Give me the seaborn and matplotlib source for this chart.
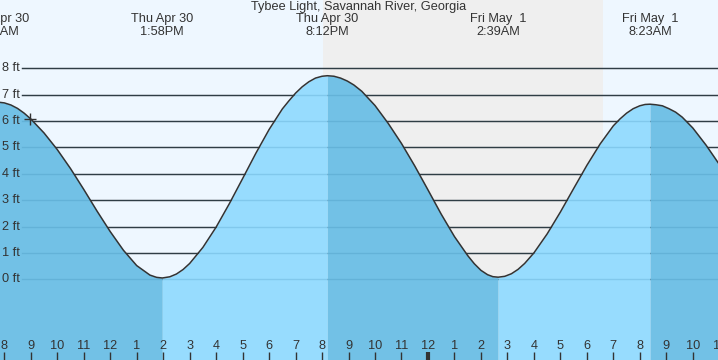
import numpy as np
import pandas as pd
import matplotlib
matplotlib.use("Agg")
import matplotlib.pyplot as plt
import matplotlib.transforms as mtrans
import seaborn as sns

# ---------------- data (hours since Thu Apr 30 00:00, feet) ----------------
title = "Tybee Light, Savannah River, Georgia"
curve_hours = [7.75, 8.0, 8.25, 8.5, 8.75, 9.0, 9.5, 10.0, 10.5, 11.0, 11.5, 12.0, 12.5,
               13.0, 13.5, 13.75, 13.967,
               14.25, 14.5, 14.75, 15.0, 15.5, 16.0, 16.5, 17.0, 17.5, 18.0, 18.5, 18.75,
               19.0, 19.25, 19.5, 19.75, 20.0, 20.2,
               20.45, 20.7, 20.95, 21.2, 21.5, 22.0, 22.5, 23.0, 23.5, 24.0, 24.5, 25.0,
               25.5, 25.75, 26.0, 26.25, 26.45, 26.65,
               26.9, 27.15, 27.4, 27.65, 28.0, 28.5, 29.0, 29.5, 30.0, 30.5, 31.0, 31.25,
               31.5, 31.75, 32.0, 32.2, 32.383,
               32.6, 32.85, 33.1, 33.35, 33.6, 34.0, 34.5, 35.0]
curve_feet = [6.72, 6.69, 6.61, 6.48, 6.30, 6.08, 5.55, 4.92, 4.20, 3.41, 2.59, 1.81, 1.10,
              0.52, 0.16, 0.074, 0.05,
              0.095, 0.20, 0.37, 0.60, 1.21, 1.98, 2.87, 3.82, 4.78, 5.68, 6.46, 6.77,
              7.06, 7.30, 7.49, 7.63, 7.70, 7.72,
              7.70, 7.63, 7.52, 7.37, 7.13, 6.59, 5.91, 5.15, 4.30, 3.39, 2.47, 1.62,
              0.90, 0.59, 0.34, 0.175, 0.10, 0.08,
              0.113, 0.21, 0.375, 0.60, 1.00, 1.72, 2.55, 3.44, 4.32, 5.13, 5.82, 6.08,
              6.30, 6.47, 6.58, 6.63, 6.64,
              6.62, 6.58, 6.47, 6.34, 6.15, 5.74, 5.09, 4.36]

event_hours = [7.75, 13.967, 20.2, 26.65, 32.383]
event_day = ["Thu Apr 30", "Thu Apr 30", "Thu Apr 30", "Fri May  1", "Fri May  1"]
event_time = ["7:45AM", "1:58PM", "8:12PM", "2:39AM", "8:23AM"]

night_start, night_end = 20.03, 30.60
now_hour, now_feet = 8.98, 6.09
grid_feet = [0, 1, 2, 3, 4, 5, 6, 7, 8]
hour_ticks = list(range(8, 36))
hour_labels = [str(h % 12 if h % 12 else 12) for h in hour_ticks]

# ---------------- style ----------------
day_bg = "#eef7ff"
night_bg = "#efefef"
rise_col = "#97dcfe"
fall_col = "#72c1e6"
ink = "#333333"
FONT = "Liberation Sans"
FS = 9.2

df = pd.DataFrame({"hour": curve_hours, "feet": curve_feet})

fig = plt.figure(figsize=(7.18, 3.6), dpi=100)
ax = fig.add_axes([0, 0, 1, 1])
XLIM = (8 - 4.3 / 26.48, 8 + 713.7 / 26.48)
YLIM = (-80.7 / 26.37, 279.3 / 26.37)
ax.set_facecolor(day_bg)
fig.patch.set_facecolor(day_bg)
ax.axvspan(night_start, night_end, color=night_bg, zorder=0, lw=0)

blend = mtrans.blended_transform_factory(ax.transAxes, ax.transData)
for f in grid_feet:
    ax.plot([22 / 718, 1], [f, f], transform=blend, color=ink, lw=1.0, zorder=1)
    ax.text(20 / 718, f, f"{f} ft", transform=blend, ha="right", va="center",
            fontsize=FS, color=ink, family=FONT, zorder=5)

# water fills between successive extremes (rising light, falling dark)
bounds = event_hours + [curve_hours[-1]]
hrs = np.array(curve_hours)
fts = np.array(curve_feet)
for i in range(len(bounds) - 1):
    a, b = bounds[i], bounds[i + 1]
    m = (hrs >= a - 1e-9) & (hrs <= b + 1e-9)
    rising = fts[m][-1] > fts[m][0]
    ax.fill_between(hrs[m], fts[m], -5, color=rise_col if rising else fall_col,
                    lw=0, zorder=2)

# grid lines seen through the water
for f in grid_feet:
    ax.plot([22 / 718, 1], [f, f], transform=blend, color="#1f6e9c", alpha=0.18,
            lw=1.0, zorder=3)

sns.lineplot(data=df, x="hour", y="feet", ax=ax, color=ink, lw=1.1, zorder=4,
             legend=False)

ax.plot([now_hour], [now_feet], marker="+", ms=9, mew=1.0, color=ink, zorder=6)

# top labels
ax.text((XLIM[0] + XLIM[1]) / 2, 10.31, title, ha="center", va="center",
        fontsize=FS, color=ink, family=FONT)
for h, d, t in zip(event_hours, event_day, event_time):
    ax.text(h, 9.86, d, ha="center", va="center", fontsize=FS, color=ink, family=FONT)
    ax.text(h, 9.38, t, ha="center", va="center", fontsize=FS, color=ink, family=FONT)

# hour ticks along the bottom
for h, lab in zip(hour_ticks, hour_labels):
    ax.text(h, -2.52, lab, ha="center", va="center", fontsize=FS, color=ink,
            family=FONT, zorder=6)
    ax.plot([h, h], [-2.77, -3.2], color=ink, lw=3.0 if h == 24 else 1.0, zorder=6,
            solid_capstyle="butt")

ax.set_xlim(*XLIM)
ax.set_ylim(*YLIM)
ax.set_axis_off()

fig.savefig("out.png", dpi=100, facecolor=day_bg)
